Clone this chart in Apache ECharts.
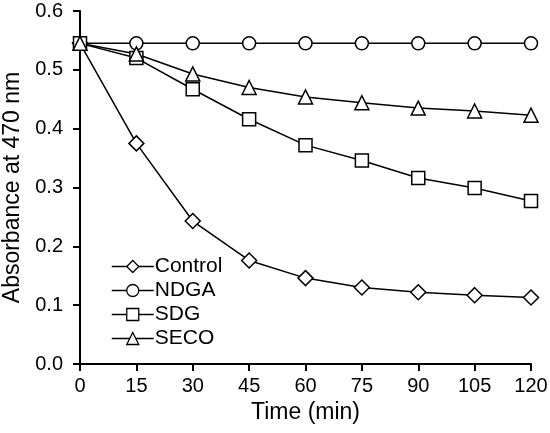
<!DOCTYPE html>
<html>
<head>
    <meta charset="utf-8" />
    <title></title>
    <script type="text/javascript" src="https://cdn.jsdelivr.net/npm/echarts@6/dist/echarts.min.js"></script>
    <style>
        html, body { margin: 0; padding: 0; background: #fff; }
        #main { width: 550px; height: 433px; }
    </style>
</head>
<body>
    <div id="main"></div>
    <script type="text/javascript">
        var times = [0, 15, 30, 45, 60, 75, 90, 105, 120];
        var control = [0.545, 0.375, 0.243, 0.176, 0.146, 0.130, 0.122, 0.117, 0.113];
        var ndga = [0.545, 0.545, 0.545, 0.545, 0.545, 0.545, 0.545, 0.545, 0.545];
        var sdg = [0.545, 0.520, 0.467, 0.416, 0.372, 0.346, 0.316, 0.299, 0.277];
        var seco = [0.545, 0.527, 0.493, 0.470, 0.454, 0.444, 0.435, 0.430, 0.423];

        function pairs(vals) {
            return times.map(function (t, i) { return [t, vals[i]]; });
        }
        function mk(name, vals, sym, size) {
            return {
                name: name,
                type: 'line',
                data: pairs(vals),
                symbol: sym,
                symbolSize: size,
                lineStyle: { color: '#000', width: 1.5 },
                itemStyle: { color: '#fff', borderColor: '#000', borderWidth: 1.5 },
                animation: false
            };
        }

        var myChart = echarts.init(document.getElementById('main'));
        var font = 'Liberation Sans, Arial, sans-serif';
        var option = {
            backgroundColor: '#fff',
            textStyle: { fontFamily: font },
            grid: { left: 80, right: 19, top: 11, bottom: 69, containLabel: false, outerBoundsMode: 'none' },
            legend: {
                left: 106,
                top: 251,
                orient: 'vertical',
                itemWidth: 42,
                itemHeight: 15,
                itemGap: 3,
                itemStyle: { color: '#fff', borderColor: '#000', borderWidth: 1.3 },
                lineStyle: { color: '#000', width: 1.5 },
                textStyle: { fontSize: 21, color: '#000', lineHeight: 21, fontFamily: font, padding: [0, 0, 0, -4] },
                data: ['Control', 'NDGA', 'SDG', 'SECO']
            },
            xAxis: {
                type: 'value',
                min: 0,
                max: 120,
                interval: 15,
                name: 'Time (min)',
                nameLocation: 'middle',
                nameGap: 36,
                nameTextStyle: { fontSize: 23, color: '#000', fontFamily: font },
                axisLine: { lineStyle: { color: '#000', width: 2 } },
                axisTick: { length: 7, lineStyle: { color: '#000', width: 2 } },
                axisLabel: { fontSize: 20, color: '#000', margin: 12, fontFamily: font },
                splitLine: { show: false }
            },
            yAxis: {
                type: 'value',
                min: 0,
                max: 0.6,
                interval: 0.1,
                name: 'Absorbance at 470 nm',
                nameLocation: 'middle',
                nameGap: 54,
                nameTextStyle: { fontSize: 23, color: '#000', fontFamily: font },
                axisLine: { show: true, lineStyle: { color: '#000', width: 2 } },
                axisTick: { show: true, length: 7, lineStyle: { color: '#000', width: 2 } },
                axisLabel: {
                    fontSize: 20, color: '#000', margin: 17, fontFamily: font,
                    formatter: function (v) { return v.toFixed(1); }
                },
                splitLine: { show: false }
            },
            series: [
                mk('Control', control, 'diamond', 15),
                mk('NDGA', ndga, 'circle', 13),
                mk('SDG', sdg, 'rect', 13),
                mk('SECO', seco, 'triangle', 14)
            ]
        };
        option && myChart.setOption(option);
    </script>
</body>
</html>
